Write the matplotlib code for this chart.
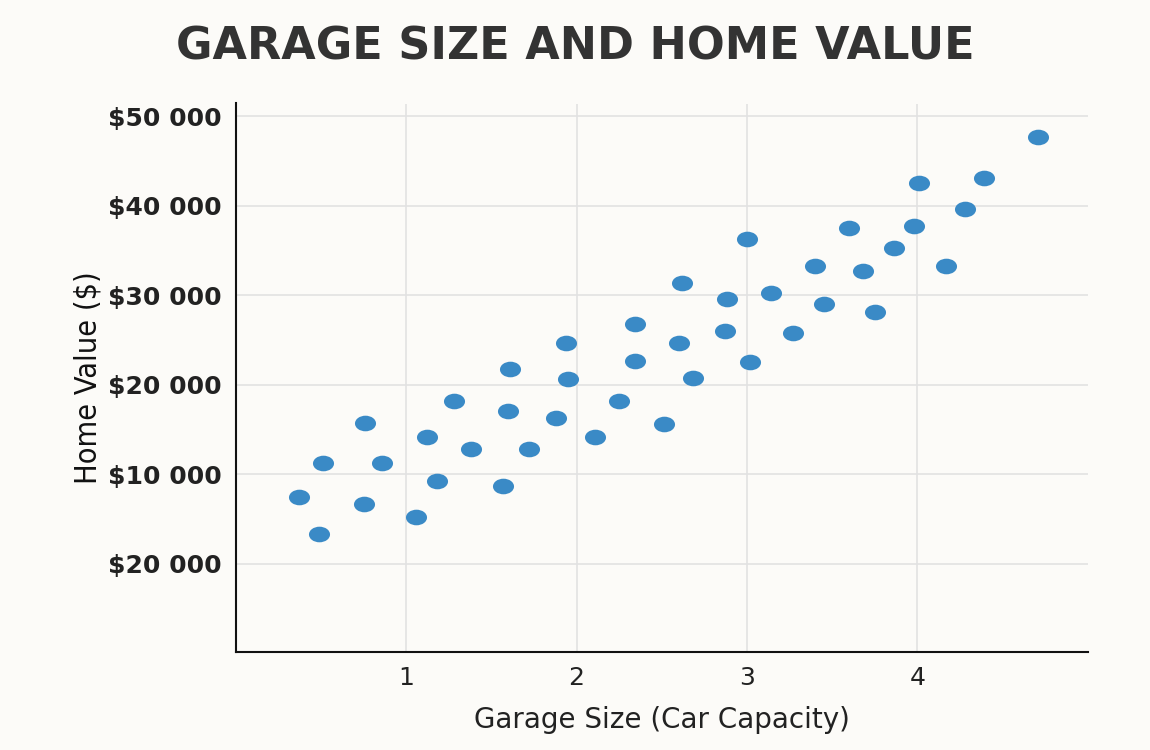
import matplotlib
matplotlib.use("Agg")
import matplotlib.pyplot as plt
from matplotlib.path import Path
from matplotlib.transforms import Affine2D

garage = [0.37,0.49,0.51,0.76,0.75,0.86,1.06,1.12,1.18,1.28,1.38,1.57,1.61,1.60,1.72,1.88,1.94,1.95,
          2.11,2.25,2.34,2.34,2.51,2.62,2.60,2.68,2.88,2.87,3.00,3.02,3.14,3.27,3.40,3.45,3.60,3.68,
          3.75,3.86,3.98,4.01,4.17,4.28,4.39,4.71]
value = [7444,3333,11222,15778,6667,11222,5222,14222,9222,18222,12778,8667,21778,17111,12778,16333,
         24667,20667,14222,18222,26778,22667,15667,31333,24667,20778,29556,26000,36222,22556,30222,
         25778,33222,29000,37556,32667,28111,35222,37778,42556,33222,39667,43111,47667]
xticks = [1,2,3,4]
yticks = [0,10000,20000,30000,40000,50000]
ylabels = ["$20 000","$10 000","$20 000","$30 000","$40 000","$50 000"]

bg = "#fcfbf8"
fig = plt.figure(figsize=(11.5,7.5), dpi=100, facecolor=bg)
ax = fig.add_axes([0.205, 0.131, 0.741, 0.731], facecolor=bg)
ell = Path.unit_circle().transformed(Affine2D().scale(1.35,1.0))
ax.scatter(garage, value, marker=ell, s=230, color="#3a8ac6", zorder=3, linewidths=0)
ax.set_xlim(0,5)
ax.set_ylim(-9800,51400)
ax.set_xticks(xticks)
ax.set_xticklabels([str(t) for t in xticks], fontsize=18, color="#222")
ax.set_yticks(yticks)
ax.set_yticklabels(ylabels, fontsize=18, fontweight="bold", color="#222")
ax.grid(True, color="#e2e2e2", linewidth=1.2)
ax.set_axisbelow(True)
for s in ["top","right"]:
    ax.spines[s].set_visible(False)
for s in ["left","bottom"]:
    ax.spines[s].set_color("#111"); ax.spines[s].set_linewidth(1.5)
ax.tick_params(length=0, pad=10)
ax.set_xlabel("Garage Size (Car Capacity)", fontsize=20, color="#222", labelpad=12)
ax.set_ylabel("Home Value ($)", fontsize=22, color="#111", family="DejaVu Sans",
              fontstretch="condensed", labelpad=4)
fig.text(0.5, 0.937, "GARAGE SIZE AND HOME VALUE", ha="center", va="center",
         fontsize=32, fontweight="heavy", color="#333", family="DejaVu Sans")
fig.savefig("out.png", dpi=100, facecolor=bg)
